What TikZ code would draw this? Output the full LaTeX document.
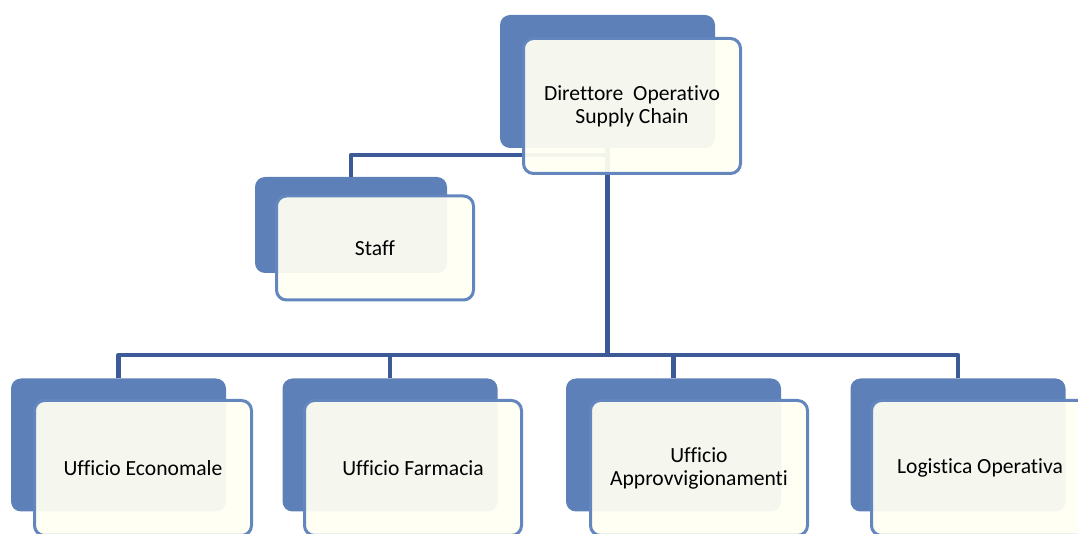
\documentclass[tikz,border=0pt]{standalone}
\usepackage{fontspec}
\setmainfont{Carlito}[Ligatures=CommonOff]
\definecolor{boxblue}{RGB}{94,128,184}
\definecolor{boxedge}{RGB}{99,134,190}
\definecolor{linkblue}{RGB}{60,90,150}
\definecolor{boxivory}{RGB}{255,255,243}
\begin{document}
\begin{tikzpicture}[x=0.5pt, y=-0.5pt, font=\fontsize{10.8}{11.5}\selectfont, line join=round,
	backbox/.style={fill=boxblue, rounded corners=5pt, inner sep=0pt, minimum width=107.5pt, minimum height=66.5pt},
	frontbox/.style={draw=boxedge, line width=1.5pt, fill=boxivory, fill opacity=0.94, text opacity=1, text=black,
		rounded corners=5pt, align=center, inner sep=0pt, minimum width=108.5pt, minimum height=67.5pt},
	staffback/.style={minimum width=96pt, minimum height=48pt},
	stafffront/.style={minimum width=98.5pt, minimum height=52pt},
	link/.style={draw=linkblue, line width=2.2pt}]
	\useasboundingbox (0,0) rectangle (1078,534);
	\clip (0,0) rectangle (1078,534);
	% back boxes
	\node[backbox] (dirB) at (607.5,81.5) {};
	\node[backbox,staffback] (staffB) at (351,225) {};
	\node[backbox] (econB) at (118.5,445) {};
	\node[backbox] (farmB) at (390,445) {};
	\node[backbox] (apprB) at (673.5,445) {};
	\node[backbox] (logB) at (958,445) {};
	% connectors
	\coordinate (hub) at (607.5,355);
	\coordinate (tap) at (607.5,155);
	\draw[link] (dirB.south) -- (hub);
	\draw[link] (staffB.north) |- (tap);
	\draw[link] (econB.north) |- (hub) -| (logB.north);
	\draw[link] (farmB.north) -- (farmB.north |- hub);
	\draw[link] (apprB.north) -- (apprB.north |- hub);
	% front boxes
	\node[frontbox] (dir) at (632,106) {Direttore~~Operativo\\Supply Chain};
	\node[frontbox,stafffront] (staff) at (375,248) {Staff};
	\node[frontbox] (econ) at (143,468) {Ufficio Economale};
	\node[frontbox] (farm) at (413,468) {Ufficio Farmacia};
	\node[frontbox] (appr) at (699,468) {Ufficio\\Approvvigionamenti};
	\node[frontbox] (log) at (980,468) {Logistica Operativa};
\end{tikzpicture}
\end{document}
